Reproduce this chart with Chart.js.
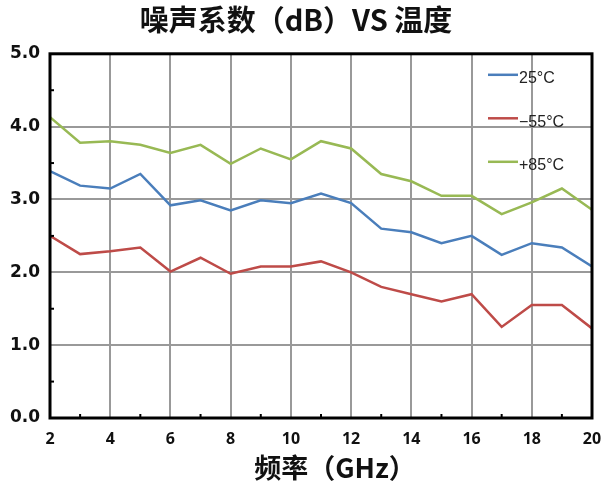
<!DOCTYPE html>
<html>
<head>
<meta charset="utf-8">
<script src="https://cdn.jsdelivr.net/npm/chart.js@4.4.0/dist/chart.umd.min.js"></script>
<style>
  body { margin: 0; background: #fff; }
  #wrap { width: 601px; height: 486px; }
</style>
</head>
<body>
<div id="wrap"><canvas id="nfChart" width="601" height="486"></canvas></div>
<script>
// frequency points (GHz)
const freqs = [2, 3, 4, 5, 6, 7, 8, 9, 10, 11, 12, 13, 14, 15, 16, 17, 18, 19, 20];
// noise figure (dB) per temperature
const nf25 = [3.39, 3.19, 3.15, 3.35, 2.92, 2.99, 2.85, 2.99, 2.95, 3.08, 2.95, 2.60, 2.55, 2.40, 2.50, 2.24, 2.40, 2.34, 2.08];
const nfMinus55 = [2.50, 2.25, 2.29, 2.34, 2.01, 2.20, 1.98, 2.08, 2.08, 2.15, 2.00, 1.80, 1.70, 1.60, 1.70, 1.25, 1.55, 1.55, 1.23];
const nfPlus85 = [4.13, 3.78, 3.80, 3.75, 3.64, 3.75, 3.49, 3.70, 3.55, 3.80, 3.70, 3.35, 3.25, 3.05, 3.05, 2.80, 2.96, 3.15, 2.86];
const seriesNames = ["25°C", "−55°C", "+85°C"];
const seriesColors = ["#4A7EBB", "#BE4B48", "#98B954"];
const xTitle = "频率（GHz）";

function toPoints(vals) {
  return freqs.map((f, i) => ({ x: f, y: vals[i] }));
}

// frame, minor ticks, x title and the legend inside the plot
const framePlugin = {
  id: "frame",
  afterDatasetsDraw(chart) {
    const ctx = chart.ctx;
    const a = chart.chartArea;
    const xs = chart.scales.x;
    const ys = chart.scales.y;
    ctx.save();
    ctx.strokeStyle = "#000";
    ctx.lineWidth = 2;
    // minor ticks on the left axis
    for (let v = 0.5; v < 5; v += 1) {
      const py = ys.getPixelForValue(v);
      ctx.beginPath();
      ctx.moveTo(a.left, py);
      ctx.lineTo(a.left + 4, py);
      ctx.stroke();
    }
    // minor ticks on the bottom axis
    for (let v = 3; v < 20; v += 2) {
      const px = xs.getPixelForValue(v);
      ctx.beginPath();
      ctx.moveTo(px, a.bottom);
      ctx.lineTo(px, a.bottom - 4);
      ctx.stroke();
    }
    ctx.lineWidth = 3;
    ctx.strokeRect(a.left, a.top, a.right - a.left, a.bottom - a.top);

    // legend
    ctx.font = "16px 'Liberation Sans', Arial, sans-serif";
    ctx.textBaseline = "middle";
    seriesNames.forEach((name, i) => {
      const y = a.top + 21 + i * 43.5;
      ctx.strokeStyle = seriesColors[i];
      ctx.lineWidth = 2.5;
      ctx.beginPath();
      ctx.moveTo(a.right - 104, y);
      ctx.lineTo(a.right - 74, y);
      ctx.stroke();
      ctx.fillStyle = "#222";
      ctx.fillText(name, a.right - 73, y + 4);
    });

    // x axis title (sits a bit right of centre like the original)
    ctx.font = "bold 27px 'Noto Sans CJK SC', sans-serif";
    ctx.fillStyle = "#111";
    ctx.textAlign = "center";
    ctx.fillText(xTitle, (a.left + a.right) / 2 + 14, a.bottom + 50);
    ctx.restore();
  }
};

const ctxNf = document.getElementById("nfChart").getContext("2d");
const nfChart = new Chart(ctxNf, {
  type: "line",
  data: {
    datasets: [
      { label: seriesNames[0], data: toPoints(nf25), borderColor: seriesColors[0] },
      { label: seriesNames[1], data: toPoints(nfMinus55), borderColor: seriesColors[1] },
      { label: seriesNames[2], data: toPoints(nfPlus85), borderColor: seriesColors[2] }
    ]
  },
  options: {
    responsive: false,
    animation: false,
    layout: { padding: { top: 0, right: 9, left: 0, bottom: 0 } },
    elements: {
      line: { borderWidth: 2.5, tension: 0, fill: false },
      point: { radius: 0 }
    },
    plugins: {
      legend: { display: false },
      tooltip: { enabled: false },
      title: {
        display: true,
        text: "噪声系数（dB）VS 温度",
        color: "#111",
        font: { family: "'Noto Sans CJK SC', sans-serif", size: 29, weight: "bold" },
        padding: { top: 3, bottom: 16 }
      }
    },
    scales: {
      x: {
        type: "linear",
        min: 2,
        max: 20,
        ticks: {
          stepSize: 2,
          color: "#111",
          padding: 12,
          font: { family: "'Open Sans', sans-serif", size: 16, weight: "bold" }
        },
        grid: { color: "#999", lineWidth: 2, drawTicks: false },
        border: { display: false },
        afterFit(scale) {
          scale.height = 68;
          scale.paddingLeft = 0;
          scale.paddingRight = 0;
        }
      },
      y: {
        min: 0,
        max: 5,
        ticks: {
          stepSize: 1,
          color: "#111",
          padding: 10,
          font: { family: "'DejaVu Sans', sans-serif", size: 17, weight: "bold" },
          callback: (v) => v.toFixed(1)
        },
        grid: { color: "#999", lineWidth: 2, drawTicks: false },
        border: { display: false },
        afterFit(scale) { scale.width = 50; }
      }
    }
  },
  plugins: [framePlugin]
});
</script>
</body>
</html>
